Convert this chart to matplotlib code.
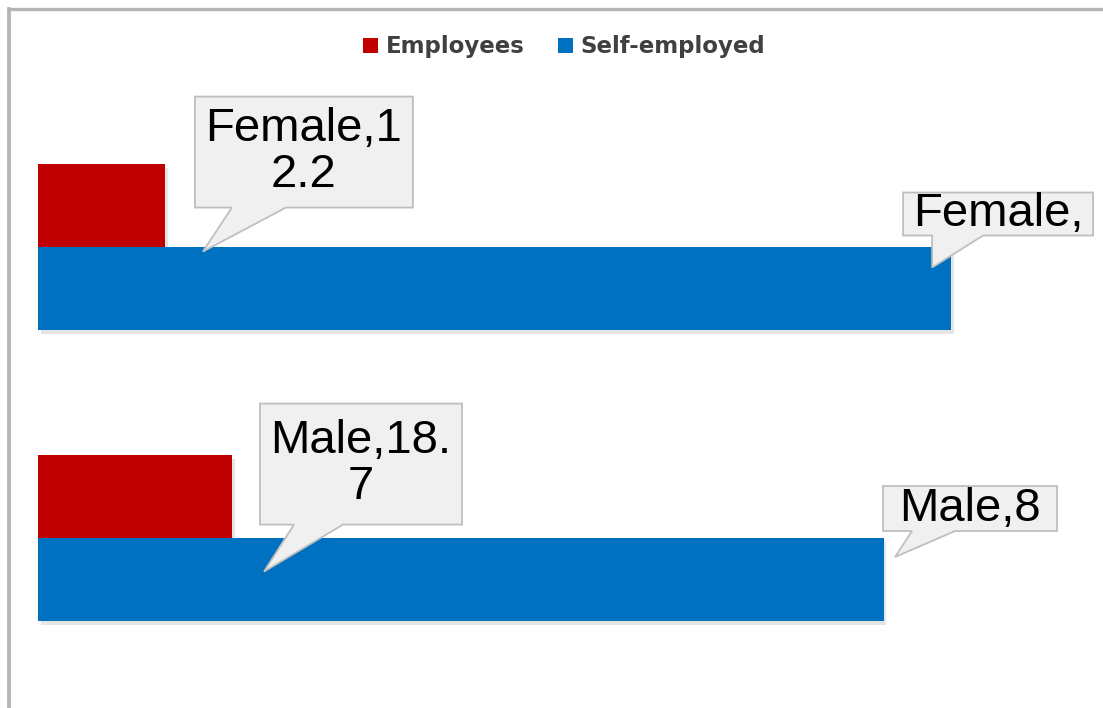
import numpy as np
import matplotlib
matplotlib.use("Agg")
import matplotlib.pyplot as plt
from matplotlib.patches import Polygon
from matplotlib.lines import Line2D
from matplotlib.transforms import IdentityTransform
import matplotlib.patheffects as pe

W, H, DPI = 1103, 708, 100

# data
categories = ["Female", "Male"]
employees = [12.2, 18.7]
self_employed = [87.8, 81.3]
series_names = ["Employees", "Self-employed"]
colors = ["#C00000", "#0070C0"]

# callout texts as they appear (clipped by the chart)
labels_emp = ["Female,1\n2.2", "Male,18.\n7"]
labels_self = ["Female,", "Male,8"]

fig = plt.figure(figsize=(W / DPI, H / DPI), dpi=DPI)
fig.patch.set_facecolor("white")
ax = fig.add_axes([38 / W, 0, 1040 / W, 1])
ax.set_xlim(0, 100)
ax.set_ylim(-0.584, 1.849)
ax.axis("off")

ypos = np.array([1.0, 0.0])   # Female on top
bh = 0.285
shadow = [pe.SimplePatchShadow(offset=(2, -3), shadow_rgbFace="#000000", alpha=0.1), pe.Normal()]
ax.barh(ypos + bh / 2, employees, height=bh, color=colors[0], path_effects=shadow)
ax.barh(ypos - bh / 2, self_employed, height=bh, color=colors[1], path_effects=shadow)

# legend
handles = [Line2D([], [], ls="none", marker="s", markersize=10.8, color=c, markeredgewidth=0) for c in colors]
leg = fig.legend(handles, series_names, loc="center", bbox_to_anchor=(0.511, 1 - 47 / H), ncol=2,
                 frameon=False, handlelength=0.7, handletextpad=0.35, columnspacing=1.4,
                 prop={"weight": "bold", "size": 16.5})
for t in leg.get_texts():
    t.set_color("#404040")


def callout(x, y, text, box, base, tip):
    """box=(dx0,dx1,dy0,dy1), base=(bx0,bx1), tip=(tx,ty); pixel offsets from the data point, y downwards"""
    px, py = ax.transData.transform((x, y))
    P = lambda dx, dy: (px + dx, py - dy)
    x0, x1, y0, y1 = box
    pts = [P(x0, y0), P(x1, y0), P(x1, y1), P(base[1], y1), P(*tip), P(base[0], y1), P(x0, y1)]
    fig.add_artist(Polygon(pts, closed=True, fc="#F0F0F0", ec="#BFBFBF", lw=1.3,
                           transform=IdentityTransform(), zorder=5))
    cx, cy = P((x0 + x1) / 2, (y0 + y1) / 2)
    fig.text(cx / W, cy / H, text, ha="center", va="center", fontsize=34, family="Liberation Sans",
             color="black", linespacing=1.08, zorder=6)


emp_geo = [((30, 248, -109, 2), (67, 121), (38, 46)),
           ((27.5, 229.5, -93, 28), (61.5, 110.5), (31.5, 75))]
self_geo = [((-48, 142, -96, -53), (-19, 32), (-19, -21)),
            ((-0.5, 173.5, -93.5, -48.5), (28.5, 71.5), (11.5, -22.5))]
for i in range(len(categories)):
    callout(employees[i], ypos[i] + bh / 2, labels_emp[i], *emp_geo[i])
    callout(self_employed[i], ypos[i] - bh / 2, labels_self[i], *self_geo[i])

# chart frame (cropped on right / bottom)
fig.add_artist(Line2D([9 / W, 9 / W], [1 - 8.5 / H, -0.1], transform=fig.transFigure, color="#B4B4B4", lw=2.7))
fig.add_artist(Line2D([9 / W, 1.1], [1 - 8.5 / H, 1 - 8.5 / H], transform=fig.transFigure, color="#B4B4B4", lw=2.4))

fig.savefig("out.png", dpi=DPI)
